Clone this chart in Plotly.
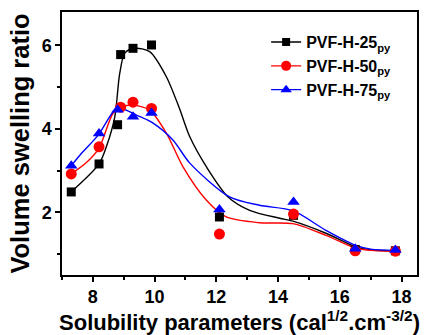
import plotly.graph_objects as go

# measured points
x_pts = [7.3, 8.2, 8.8, 8.9, 9.3, 9.9, 12.1, 14.5, 16.5, 17.8]
y25 = [2.49, 3.16, 4.10, 5.78, 5.93, 6.01, 1.89, 1.93, 1.11, 1.08]
x50 = [7.3, 8.2, 8.9, 9.3, 9.9, 12.1, 14.5, 16.5, 17.8]
y50 = [2.92, 3.57, 4.52, 4.64, 4.49, 1.48, 1.96, 1.08, 1.07]
x75 = [7.3, 8.2, 8.8, 9.3, 9.9, 12.1, 14.5, 16.5, 17.8]
y75 = [3.12, 3.89, 4.46, 4.29, 4.38, 2.07, 2.25, 1.13, 1.10]

# smooth fitted curves
cx25 = [7.3, 8.2, 8.45, 8.71, 8.87, 9.04, 9.36, 9.84, 10.38, 10.8, 11.14, 11.68, 12.38, 13.08, 14.05, 14.48, 15.55, 16.52, 17.0, 17.82]
cy25 = [2.49, 3.16, 3.6, 4.29, 5.33, 5.82, 5.93, 5.85, 5.25, 4.5, 3.81, 3.09, 2.37, 2.05, 1.86, 1.79, 1.50, 1.17, 1.10, 1.08]
cx50 = [7.3, 7.8, 8.2, 8.66, 8.93, 9.3, 9.84, 10.38, 10.92, 11.68, 12.32, 13.4, 14.48, 15.55, 16.52, 17.0, 17.8]
cy50 = [2.92, 3.2, 3.54, 4.38, 4.52, 4.57, 4.45, 3.90, 3.09, 2.29, 1.89, 1.75, 1.73, 1.45, 1.14, 1.09, 1.07]
cx75 = [7.3, 7.58, 8.17, 8.71, 8.93, 9.41, 9.95, 10.6, 11.14, 12.43, 13.4, 14.48, 15.55, 16.52, 17.0, 17.8]
cy75 = [3.12, 3.37, 3.85, 4.45, 4.49, 4.33, 4.14, 3.73, 3.18, 2.37, 2.17, 2.04, 1.57, 1.21, 1.12, 1.09]

names = ["PVF-H-25<sub>py</sub>", "PVF-H-50<sub>py</sub>", "PVF-H-75<sub>py</sub>"]
colors = ["black", "#ff0000", "#0000ff"]
symbols = ["square", "circle", "triangle-up"]
msizes = [9, 11, 11]

series = [(x_pts, y25, cx25, cy25), (x50, y50, cx50, cy50), (x75, y75, cx75, cy75)]

fig = go.Figure()
for i, (px, py, cx, cy) in enumerate(series):
    fig.add_trace(go.Scatter(x=cx, y=cy, mode="lines", line=dict(color=colors[i], width=1.4, shape="spline", smoothing=0.8),
                             showlegend=False, hoverinfo="skip"))
for i, (px, py, cx, cy) in enumerate(series):
    fig.add_trace(go.Scatter(x=px, y=py, mode="markers",
                             marker=dict(symbol=symbols[i], size=msizes[i], color=colors[i]),
                             showlegend=False))
for i in range(3):
    fig.add_trace(go.Scatter(x=[None], y=[None], mode="lines+markers", name=names[i],
                             line=dict(color=colors[i], width=1.4),
                             marker=dict(symbol=symbols[i], size=msizes[i] - 1, color=colors[i])))

font = dict(family="Liberation Sans, Arial, sans-serif", color="black")
axis_common = dict(showline=True, linecolor="black", linewidth=1.5, mirror=True, showgrid=False, zeroline=False,
                   ticks="outside", ticklen=5, tickwidth=1.5, tickcolor="black",
                   tickfont=dict(size=18, weight="bold", **font))
fig.update_layout(
    width=427, height=335, margin=dict(l=62, r=8, t=12, b=60),
    paper_bgcolor="white", plot_bgcolor="white",
    font=font,
    xaxis=dict(range=[7, 18.5], dtick=2, tick0=0, minor=dict(dtick=1, ticks="outside", ticklen=3, tickcolor="black"),
               title=dict(text="Solubility parameters (cal<sup>1/2</sup>.cm<sup>-3/2</sup>)", font=dict(size=22, weight="bold", **font), standoff=0),
               **axis_common),
    yaxis=dict(range=[0.5, 6.8], dtick=2, tick0=0, minor=dict(dtick=1, ticks="outside", ticklen=3, tickcolor="black"),
               title=dict(text="Volume swelling ratio", font=dict(size=25.5, weight="bold", **font), standoff=5),
               **axis_common),
    legend=dict(x=0.575, y=0.95, xanchor="left", yanchor="top", bgcolor="rgba(0,0,0,0)",
                font=dict(size=16, weight="bold", **font), tracegroupgap=0, itemwidth=30),
)
fig.write_html("out.html")
